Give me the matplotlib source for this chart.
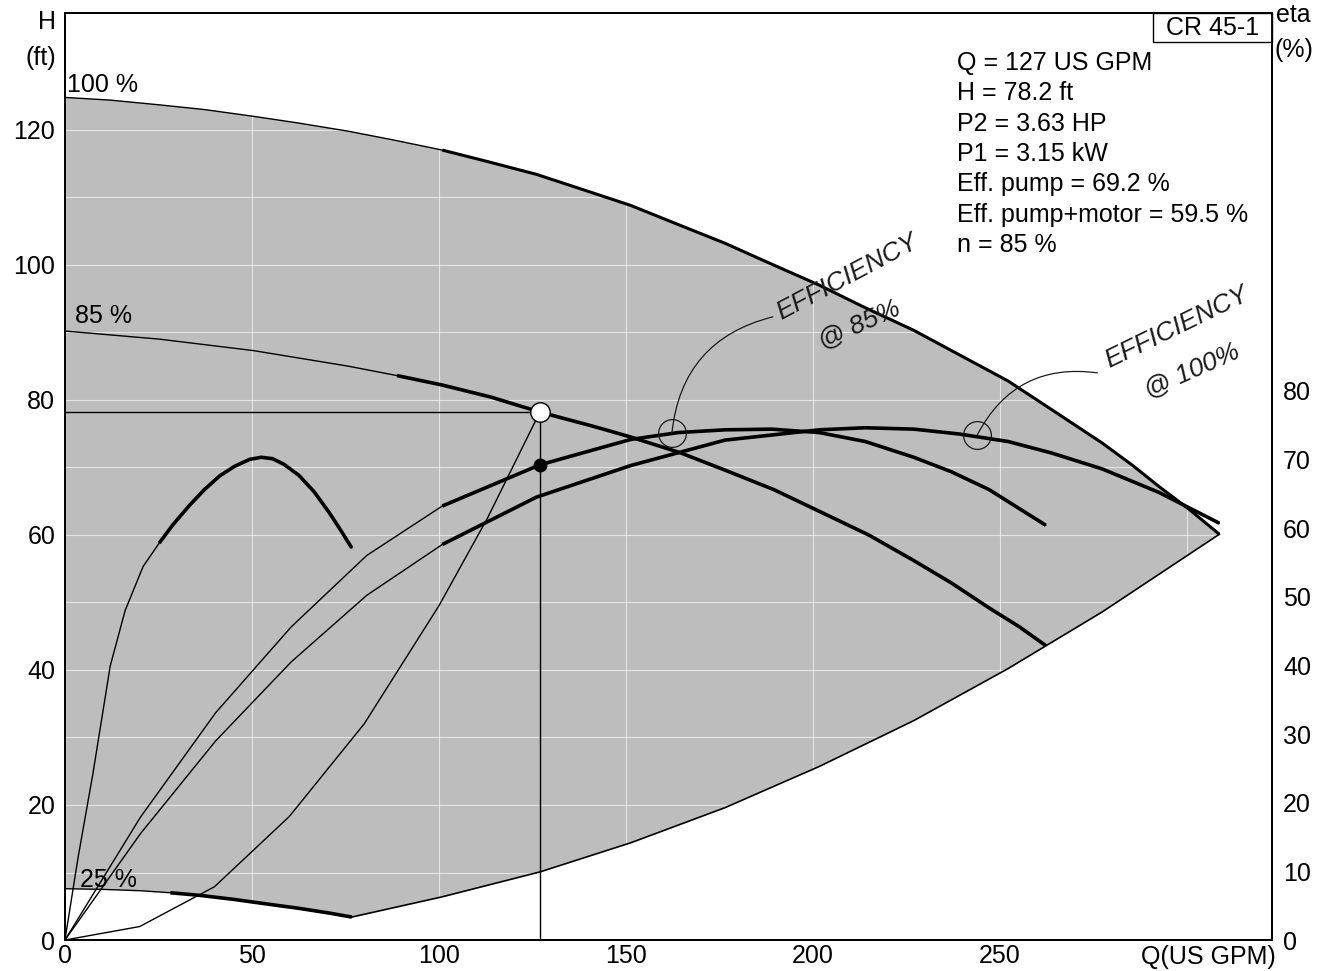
import numpy as np
import matplotlib
matplotlib.use('Agg')
import matplotlib.pyplot as plt
from matplotlib.patches import Rectangle

plt.rcParams['font.family'] = ['Liberation Sans', 'DejaVu Sans']

# ---------------- data ----------------
# QH curve at 100 % speed (upper edge of the shaded range)
q100 = np.array([0, 12.1, 25.2, 37.3, 50.4, 62.5, 75.7, 87.8, 100.9, 113.0,
                 126.1, 138.2, 151.3, 163.4, 176.5, 188.6, 201.7, 213.8, 227.0,
                 239.1, 252.2, 264.3, 277.4, 285.5, 292.5, 300.6, 308.7])
h100 = np.array([124.8, 124.4, 123.7, 123.0, 122.0, 121.0, 119.8, 118.5, 117.0,
                 115.3, 113.4, 111.2, 108.8, 106.1, 103.2, 100.2, 97.0, 93.7,
                 90.3, 86.7, 82.8, 78.4, 73.6, 70.3, 67.2, 63.8, 60.1])

# QH curve at 85 % speed (duty curve)
q85 = np.array([0, 25.2, 50.4, 75.7, 88.8, 100.9, 114.0, 127, 141.2, 151.3,
                164.4, 176.5, 189.6, 201.7, 214.9, 227.0, 237.0, 247.1, 255.2,
                262.3])
h85 = np.array([90.2, 89.0, 87.3, 85.0, 83.6, 82.2, 80.4, 78.2, 76.1, 74.5,
                72.2, 69.6, 66.7, 63.5, 60.0, 56.2, 52.9, 49.2, 46.4, 43.6])

# QH curve at 25 % speed
q25 = np.array([0, 10.1, 20.2, 28.2, 36.3, 45.4, 54.5, 62.5, 70.6, 76.7])
h25 = np.array([7.6, 7.5, 7.3, 7.0, 6.6, 6.0, 5.3, 4.7, 4.0, 3.4])

# end-of-curve line (lower right edge of shaded range)
q_end = np.array([76.7, 100.9, 127.1, 151.3, 176.5, 201.7, 227.0, 252.2, 277.4,
                  308.7])
h_end = np.array([3.4, 6.4, 10.1, 14.4, 19.6, 25.7, 32.5, 40.2, 48.6, 60.1])

# system curve through the duty point
q_sys = np.array([0, 20, 40, 60, 80, 100, 113, 127])
h_sys = np.array([0, 2.0, 7.9, 18.3, 32.0, 49.5, 62.5, 78.2])

# efficiency curves (right axis, %)
q_eta100 = np.array([0, 20.2, 40.3, 60.5, 80.7, 100.9, 126.1, 151.3, 176.5,
                     201.7, 214.0, 227.0, 239.0, 252.2, 264.0, 277.4, 292.5,
                     308.7])
eta100 = np.array([0, 15.5, 29.0, 40.5, 50.2, 57.6, 64.5, 69.1, 72.8, 74.3,
                   74.6, 74.4, 73.7, 72.6, 70.9, 68.6, 65.2, 60.7])

q_eta85 = np.array([0, 20.2, 40.3, 60.5, 80.7, 100.9, 127, 151.3, 164.0, 176.5,
                    189.0, 201.7, 214.0, 227.0, 237.0, 247.1, 262.3])
eta85 = np.array([0, 17.9, 33.1, 45.6, 56.0, 63.2, 69.2, 72.9, 73.9, 74.3,
                  74.4, 73.9, 72.6, 70.3, 68.2, 65.6, 60.4])

q_eta25 = np.array([0, 3.5, 7.5, 12.1, 16.1, 20.9, 25.2, 28.9, 33.3, 37.3, 41.4,
                    45.4, 49.4, 52.5, 55.5, 58.5, 62.5, 66.6, 70.6, 73.6, 76.7])
eta25 = np.array([0, 12.0, 24.3, 39.9, 48.0, 54.4, 57.8, 60.5, 63.3, 65.6,
                  67.6, 69.0, 70.0, 70.3, 70.1, 69.3, 67.7, 65.3, 62.3, 59.8,
                  57.1])

# duty point
op_q, op_h, op_eta = 127, 78.2, 69.2

x_ticks = [0, 50, 100, 150, 200, 250]
h_ticks = [0, 20, 40, 60, 80, 100, 120]
eta_ticks = [0, 10, 20, 30, 40, 50, 60, 70, 80]

info_lines = ["Q = 127 US GPM", "H = 78.2 ft", "P2 = 3.63 HP", "P1 = 3.15 kW",
              "Eff. pump = 69.2 %", "Eff. pump+motor = 59.5 %", "n = 85 %"]

speed_labels = ["100 %", "85 %", "25 %"]
speed_label_pos = [(0.6, 126.7), (2.8, 92.4), (3.9, 8.9)]

# ---------------- figure ----------------
fig = plt.figure(figsize=(13.23, 9.71), dpi=100)
ax = fig.add_axes([0.0491, 0.0319, 0.9124, 0.9547])
ax.set_xlim(0, 322.8)
ax.set_ylim(0, 137.3)
ax2 = ax.twinx()
ax2.set_ylim(0, 135)

FS = 18
THIN = 1.0
THICK = 2.6
INK = 'k'

# shaded operating range
poly_q = np.concatenate([q100, q_end[::-1], q25[::-1]])
poly_h = np.concatenate([h100, h_end[::-1], h25[::-1]])
ax.fill(poly_q, poly_h, facecolor='#bdbdbd', edgecolor='none', zorder=1)

# faint white grid showing through the shading
for hv in range(10, 140, 10):
    ax.axhline(hv, color='white', lw=0.8, alpha=0.6, zorder=1.2)
for qv in range(50, 320, 50):
    ax.axvline(qv, color='white', lw=0.8, alpha=0.6, zorder=1.2)


def curve(axis, q, v, qsplit, lw_thick):
    axis.plot(q, v, color=INK, lw=THIN, zorder=3, solid_joinstyle='round')
    m = q >= qsplit
    axis.plot(q[m], v[m], color=INK, lw=lw_thick, zorder=3,
              solid_capstyle='butt', solid_joinstyle='round')


curve(ax, q100, h100, 100, 2.2)
curve(ax, q85, h85, 88, THICK)
curve(ax, q25, h25, 28, THICK)
ax.plot(q_end, h_end, color=INK, lw=1.2, zorder=3)
ax.plot(q_sys, h_sys, color=INK, lw=THIN, zorder=3)

# duty point guide lines
ax.plot([0, op_q], [op_h, op_h], color=INK, lw=THIN, zorder=3)
ax.plot([op_q, op_q], [0, op_h], color=INK, lw=THIN, zorder=3)
ax.plot([op_q], [op_h], 'o', ms=14, mfc='white', mec=INK, mew=1.0, zorder=6)

curve(ax2, q_eta100, eta100, 100, THICK)
curve(ax2, q_eta85, eta85, 85, THICK)
curve(ax2, q_eta25, eta25, 25, THICK)
ax2.plot([op_q], [op_eta], 'o', ms=9, mfc=INK, mec=INK, zorder=6)

# ---------------- axes styling ----------------
for a in (ax, ax2):
    for s in a.spines.values():
        s.set_linewidth(1.3)
        s.set_color('k')

ax.set_xticks(x_ticks)
ax.set_xticklabels([str(v) for v in x_ticks])
ax.set_yticks(h_ticks)
ax.set_yticklabels([str(v) for v in h_ticks])
ax.tick_params(axis='x', length=0, labelsize=FS, pad=3)
ax.tick_params(axis='y', length=0, labelsize=FS, pad=7)
ax2.set_yticks(eta_ticks)
ax2.set_yticklabels([str(v) for v in eta_ticks])
ax2.tick_params(axis='y', length=0, labelsize=FS, pad=8)

# axis titles
fig.text(56 / 1323, 1 - 22 / 971, "H", fontsize=FS, ha='right', va='center')
fig.text(56 / 1323, 1 - 58 / 971, "(ft)", fontsize=FS, ha='right', va='center')
fig.text(1276 / 1323, 1 - 15 / 971, "eta", fontsize=FS, ha='left', va='center')
fig.text(1274 / 1323, 1 - 50 / 971, "(%)", fontsize=FS, ha='left', va='center')
fig.text(1276 / 1323, 1 - 957 / 971, "Q(US GPM)", fontsize=FS, ha='right',
         va='center')

# speed labels
for lab, (xq, yh) in zip(speed_labels, speed_label_pos):
    ax.text(xq, yh, lab, fontsize=FS, ha='left', va='center', zorder=7)

# info block
for i, line in enumerate(info_lines):
    ax.text(238.5, 129.9 - i * 4.49, line, fontsize=FS, ha='left', va='center',
            zorder=7)

# product box
ax.add_patch(Rectangle((0.9014, 0.9687), 0.0986, 0.0313, transform=ax.transAxes,
                       facecolor='white', edgecolor='k', lw=1.0, zorder=7,
                       clip_on=False))
ax.text(0.9503, 0.9840, "CR 45-1", transform=ax.transAxes, fontsize=FS,
        ha='center', va='center', zorder=8)

# handwritten notes
hand = dict(color='#1a1a1a', fontsize=19, style='italic', zorder=7)
ax.text(209.3, 98.2, "EFFICIENCY", rotation=28, ha='center', va='center', **hand)
ax.text(212.5, 91.1, "@ 85%", rotation=24, ha='center', va='center', **hand)
ax.text(297.4, 90.8, "EFFICIENCY", rotation=26, ha='center', va='center', **hand)
ax.text(301.4, 84.4, "@ 100%", rotation=24, ha='center', va='center', **hand)

ax2.annotate("", xy=(162.3, 73.8), xycoords='data',
             xytext=(189.3, 92.3), textcoords=ax.transData,
             arrowprops=dict(arrowstyle='-', lw=0.9, color='#1a1a1a',
                             connectionstyle='arc3,rad=0.35',
                             shrinkA=0, shrinkB=0), zorder=7)
ax2.plot([162.3], [73.8], 'o', ms=20, mfc='none', mec='#1a1a1a', mew=0.9,
         zorder=7)
ax2.annotate("", xy=(244.0, 73.6), xycoords='data',
             xytext=(276.1, 84.0), textcoords=ax.transData,
             arrowprops=dict(arrowstyle='-', lw=0.9, color='#1a1a1a',
                             connectionstyle='arc3,rad=0.35',
                             shrinkA=0, shrinkB=0), zorder=7)
ax2.plot([244.0], [73.6], 'o', ms=20, mfc='none', mec='#1a1a1a', mew=0.9,
         zorder=7)

fig.savefig("out.png", dpi=100)
